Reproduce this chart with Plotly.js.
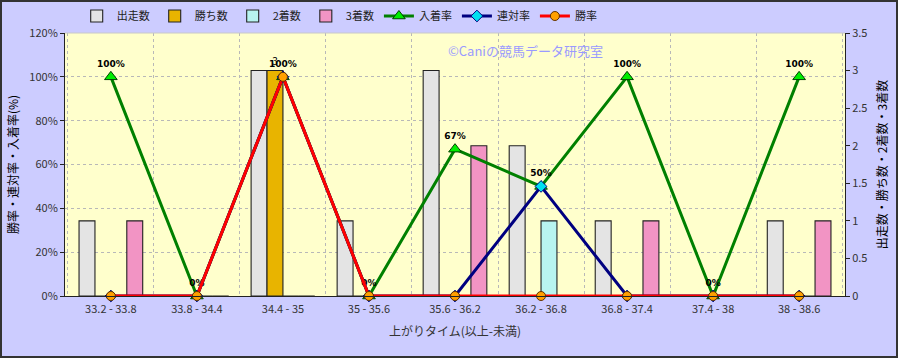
<!DOCTYPE html>
<html><head><meta charset="utf-8">
<script src="https://cdn.plot.ly/plotly-3.0.1.min.js"></script>
<style>html,body{margin:0;padding:0;background:#ccccff;}#c{width:898px;height:358px;}</style>
</head><body><div id="c"></div>
<script>
const categories = ["33.2 - 33.8","33.8 - 34.4","34.4 - 35","35 - 35.6","35.6 - 36.2","36.2 - 36.8","36.8 - 37.4","37.4 - 38","38 - 38.6"];
const starts = [1,0,3,1,3,2,1,0,1];
const wins = [0,0,3,0,0,0,0,0,0];
const seconds = [0,0,0,0,0,1,0,0,0];
const thirds = [1,0,0,0,2,0,1,0,1];
const placeRate = [100,0,100,0,67,50,100,0,100];
const quinellaRate = [0,0,100,0,0,50,0,0,0];
const winRate = [0,0,100,0,0,0,0,0,0];

const font = "'Noto Sans CJK JP', 'Noto Sans', sans-serif";
function bar(name, y, color, extra){
  return Object.assign({type:'bar', name, x:categories, y, yaxis:'y',
    marker:{color, line:{color:'#222', width:1.1}}}, extra||{});
}
const traces = [
  bar('出走数', starts, '#e4e4e4'),
  bar('勝ち数', wins, '#e8b400', {text: wins.map(v=>v>0?String(v):''), textposition:'outside', cliponaxis:false, textfont:{size:10, color:'#000', family:font}}),
  bar('2着数', seconds, '#b8f4f0'),
  bar('3着数', thirds, '#f294c4'),
  {type:'scatter', mode:'lines+markers+text', name:'入着率', x:categories, y:placeRate, yaxis:'y2',
   line:{color:'#008000', width:3}, marker:{symbol:'triangle-up', size:11, color:'#00ee00', line:{color:'#004000', width:1}},
   text: placeRate.map(v=>v+'%'), textposition:'top center', cliponaxis:false,
   textfont:{size:9, color:'#000', family:'DejaVu Sans', weight:'bold'}},
  {type:'scatter', mode:'lines+markers', name:'連対率', x:categories, y:quinellaRate, yaxis:'y2',
   line:{color:'#000080', width:3}, marker:{symbol:'diamond', size:9, color:'#00e0f0', line:{color:'#000080', width:1}}, cliponaxis:false},
  {type:'scatter', mode:'lines+markers', name:'勝率', x:categories, y:winRate, yaxis:'y2',
   line:{color:'#ff0000', width:3}, marker:{symbol:'circle', size:9, color:'#ffa000', line:{color:'#603000', width:1}}, cliponaxis:false}
];
const layout = {
  width:898, height:358,
  paper_bgcolor:'#ccccff', plot_bgcolor:'#ffffcc',
  margin:{l:65, r:53, t:33, b:62, autoexpand:false},
  font:{family:font, size:11, color:'#333'},
  barmode:'group', bargap:0.26, bargroupgap:0,
  showlegend:true,
  legend:{orientation:'h', x:0.015, y:1 + 17/263, xanchor:'left', yanchor:'middle', bgcolor:'rgba(0,0,0,0)', font:{size:11, color:'#222'}, itemwidth:30, traceorder:'normal', tracegroupgap:0},
  xaxis:{type:'category', tickson:'boundaries', showgrid:true, gridcolor:'#b8b8b8', griddash:'dot',
         showline:true, linecolor:'#222', mirror:false, ticks:'', tickfont:{size:11, color:'#333'},
         ticklabelstandoff:3,
         title:{text:'上がりタイム(以上-未満)', font:{size:12, color:'#333'}, standoff:12}},
  yaxis:{side:'right', range:[0,3.5], dtick:0.5, tick0:0, showgrid:false, zeroline:false,
         showline:true, linecolor:'#222', ticks:'outside', ticklen:4, tickcolor:'#222',
         tickfont:{size:11, color:'#333'},
         title:{text:'出走数・勝ち数・2着数・3着数', font:{size:12, color:'#000'}, standoff:12}},
  yaxis2:{overlaying:'y', side:'left', range:[0,120], dtick:20, tick0:0, ticksuffix:'%',
          showgrid:true, gridcolor:'#b8b8b8', griddash:'dot', zeroline:false,
          showline:true, linecolor:'#222', ticks:'outside', ticklen:4, tickcolor:'#222',
          tickfont:{size:11, color:'#333'},
          title:{text:'勝率・連対率・入着率(%)', font:{size:12, color:'#000'}, standoff:8}},
  annotations:[{xref:'paper', yref:'paper', x:(525-65)/780, y:(296-50)/263, xanchor:'center', yanchor:'middle', showarrow:false,
    text:'©Caniの競馬データ研究室', font:{size:13, color:'#9a9aff', family:font}}],
  shapes:[{type:'rect', xref:'paper', yref:'paper', x0:-64/780, x1:1+52/780, y0:-61/263, y1:1+32/263, line:{color:'#333', width:2}, fillcolor:'rgba(0,0,0,0)'},
          {type:'line', xref:'paper', yref:'paper', x0:0, x1:1, y0:1, y1:1, line:{color:'#c8c8c8', width:1}}]
};
Plotly.newPlot('c', traces, layout, {displayModeBar:false, staticPlot:true});
</script>
</body></html>
